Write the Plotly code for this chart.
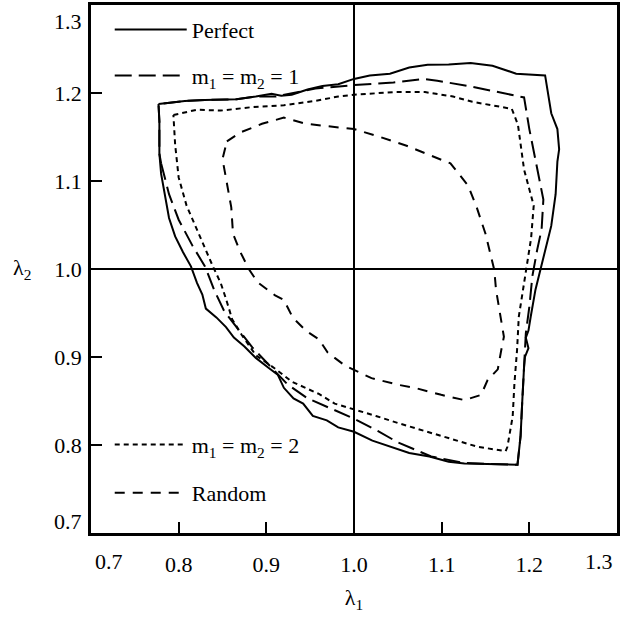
import plotly.graph_objects as go

# ---- data ----
perfect_x = [0.777,0.807,0.830,0.866,0.888,0.906,0.917,0.929,0.947,0.964,0.982,1.000,1.018,1.041,1.063,1.084,1.108,1.133,1.158,1.185,1.218,
             1.221,1.225,1.232,1.234,1.232,1.230,1.225,1.2186,1.213,1.207,1.2016,1.199,1.196,1.199,1.195,1.194,1.192,1.190,1.1865,
             1.126,1.108,1.086,1.063,1.041,1.021,1.000,0.982,0.969,0.953,0.942,0.931,0.920,0.913,0.902,0.888,0.875,0.863,0.854,0.843,0.831,
             0.827,0.821,0.814,0.805,0.796,0.789,0.785,0.780,0.778,0.778,0.777]
perfect_y = [1.1875,1.191,1.192,1.193,1.196,1.199,1.197,1.198,1.204,1.208,1.210,1.216,1.220,1.222,1.229,1.232,1.2325,1.234,1.231,1.222,1.220,
             1.200,1.177,1.159,1.136,1.122,1.085,1.049,1.022,0.999,0.9765,0.946,0.930,0.922,0.910,0.900,0.889,0.851,0.810,0.7776,
             0.779,0.781,0.787,0.791,0.798,0.805,0.815,0.820,0.828,0.833,0.847,0.853,0.865,0.880,0.888,0.899,0.912,0.922,0.934,0.945,0.955,
             0.971,0.984,1.003,1.019,1.037,1.058,1.081,1.108,1.131,1.168,1.1875]

m1_x = [0.780,0.789,0.800,0.816,0.830,0.841,0.852,0.866,0.884,0.902,0.924,0.947,0.978,1.000,1.027,1.050,1.088,1.126,1.1865,1.190,1.192,
        1.194,1.196,1.200,1.2035,1.209,1.214,1.216,1.209,1.200,1.194,1.135,1.095,1.079,1.045,1.000,0.956,0.911,0.888,0.866,0.830,0.807,0.777,0.778,0.778,0.780]
m1_y = [1.120,1.085,1.056,1.026,1.003,0.975,0.952,0.934,0.911,0.892,0.869,0.853,0.840,0.830,0.816,0.803,0.787,0.7795,0.7776,0.810,0.851,
        0.889,0.927,0.957,0.992,1.022,1.045,1.079,1.113,1.159,1.195,1.207,1.214,1.216,1.212,1.209,1.205,1.196,1.196,1.193,1.192,1.191,1.1875,1.168,1.131,1.120]

m2_x = [0.794,0.821,0.848,0.884,0.920,0.956,0.982,1.000,1.045,1.081,1.113,1.135,1.180,1.187,1.194,1.205,1.202,1.1998,1.194,1.188,1.186,1.183,
        1.181,1.175,1.173,1.141,1.107,1.069,1.050,1.025,1.000,0.978,0.960,0.929,0.911,0.888,0.872,0.861,0.854,0.848,0.839,0.825,0.809,0.800,0.796,0.794]
m2_y = [1.175,1.181,1.180,1.184,1.186,1.191,1.196,1.198,1.201,1.201,1.196,1.190,1.182,1.164,1.113,1.072,1.035,1.022,0.984,0.946,0.908,0.870,
        0.8325,0.798,0.793,0.798,0.808,0.819,0.825,0.833,0.840,0.847,0.858,0.872,0.886,0.902,0.925,0.943,0.966,0.984,1.003,1.035,1.072,1.104,1.141,1.175]

rand_x = [0.855,0.870,0.895,0.920,0.945,0.975,1.000,1.030,1.060,1.085,1.110,1.130,1.140,1.150,1.156,1.160,1.162,1.1675,1.171,1.168,1.164,
          1.1525,1.145,1.126,1.0995,1.069,1.050,1.020,1.000,0.990,0.970,0.960,0.945,0.930,0.920,0.910,0.890,0.880,0.870,0.862,0.860,0.855,0.850,0.855]
rand_y = [1.145,1.155,1.165,1.172,1.165,1.162,1.159,1.150,1.140,1.130,1.120,1.095,1.070,1.040,1.016,0.999,0.9765,0.946,0.923,0.908,0.886,
          0.874,0.857,0.851,0.857,0.865,0.8685,0.876,0.885,0.890,0.905,0.920,0.930,0.945,0.965,0.970,0.985,1.000,1.020,1.040,1.070,1.100,1.125,1.145]

series_names = ["Perfect", "m<sub>1</sub> = m<sub>2</sub> = 1", "m<sub>1</sub> = m<sub>2</sub> = 2", "Random"]
tick_vals = [0.8, 0.9, 1.0, 1.1, 1.2]
tick_text = ["0.8", "0.9", "1.0", "1.1", "1.2"]
end_vals = [0.7, 1.3]
end_text = ["0.7", "1.3"]

FONT = "Liberation Serif, DejaVu Serif, Times New Roman, serif"
FS = 22
font = dict(family=FONT, size=FS, color="black")

series = [
    (perfect_x, perfect_y, "solid", "legend", 0.953),
    (m1_x, m1_y, "17px,7px", "legend2", 0.866),
    (m2_x, m2_y, "5px,4px", "legend3", 0.167),
    (rand_x, rand_y, "10px,8px", "legend4", 0.076),
]

fig = go.Figure()
for (xs, ys, dash, lg, _), name in zip(series, series_names):
    fig.add_trace(go.Scatter(x=xs, y=ys, mode="lines", name=name, legend=lg, showlegend=True,
                             line=dict(color="black", width=2, dash=dash)))

legend_common = dict(x=0.0356, xanchor="left", yanchor="middle", bgcolor="rgba(0,0,0,0)",
                     borderwidth=0, itemwidth=72, font=font, visible=True)
layout_legends = {}
for (_, _, _, lg, ly) in series:
    layout_legends[lg] = dict(legend_common, y=ly)

axis_common = dict(range=[0.7, 1.3], tickvals=tick_vals, ticktext=tick_text, ticks="inside",
                   ticklen=11, tickwidth=2, tickcolor="black", showline=True, linewidth=2.5,
                   linecolor="black", mirror=True, showgrid=False, zeroline=False,
                   tickfont=font)

fig.update_layout(
    width=621, height=634,
    margin=dict(l=91, r=1, t=5, b=101),
    paper_bgcolor="white", plot_bgcolor="white",
    showlegend=True,
    xaxis=dict(axis_common, ticklabelstandoff=10,
               title=dict(text="λ<sub>1</sub>", font=font, standoff=14)),
    yaxis=dict(axis_common, ticklabelstandoff=2),
    **layout_legends,
)

fig.add_vline(x=1.0, line=dict(color="black", width=2))
fig.add_hline(y=1.0, line=dict(color="black", width=2))

# end tick labels, shifted inward like the reference
for v, t, sx in zip(end_vals, end_text, [18, -18]):
    fig.add_annotation(x=v, y=0, xref="x", yref="paper", yanchor="middle", yshift=-28, xshift=sx,
                       text=t, showarrow=False, font=font)
for v, t, sy in zip(end_vals, end_text, [12, -16]):
    fig.add_annotation(x=0, y=v, xref="paper", yref="y", xanchor="right", xshift=-7, yshift=sy,
                       text=t, showarrow=False, font=font)

fig.add_annotation(x=0, y=1.0, xref="paper", yref="y", xanchor="center", xshift=-69,
                   text="λ<sub>2</sub>", showarrow=False, font=font)

fig.write_html("out.html")
